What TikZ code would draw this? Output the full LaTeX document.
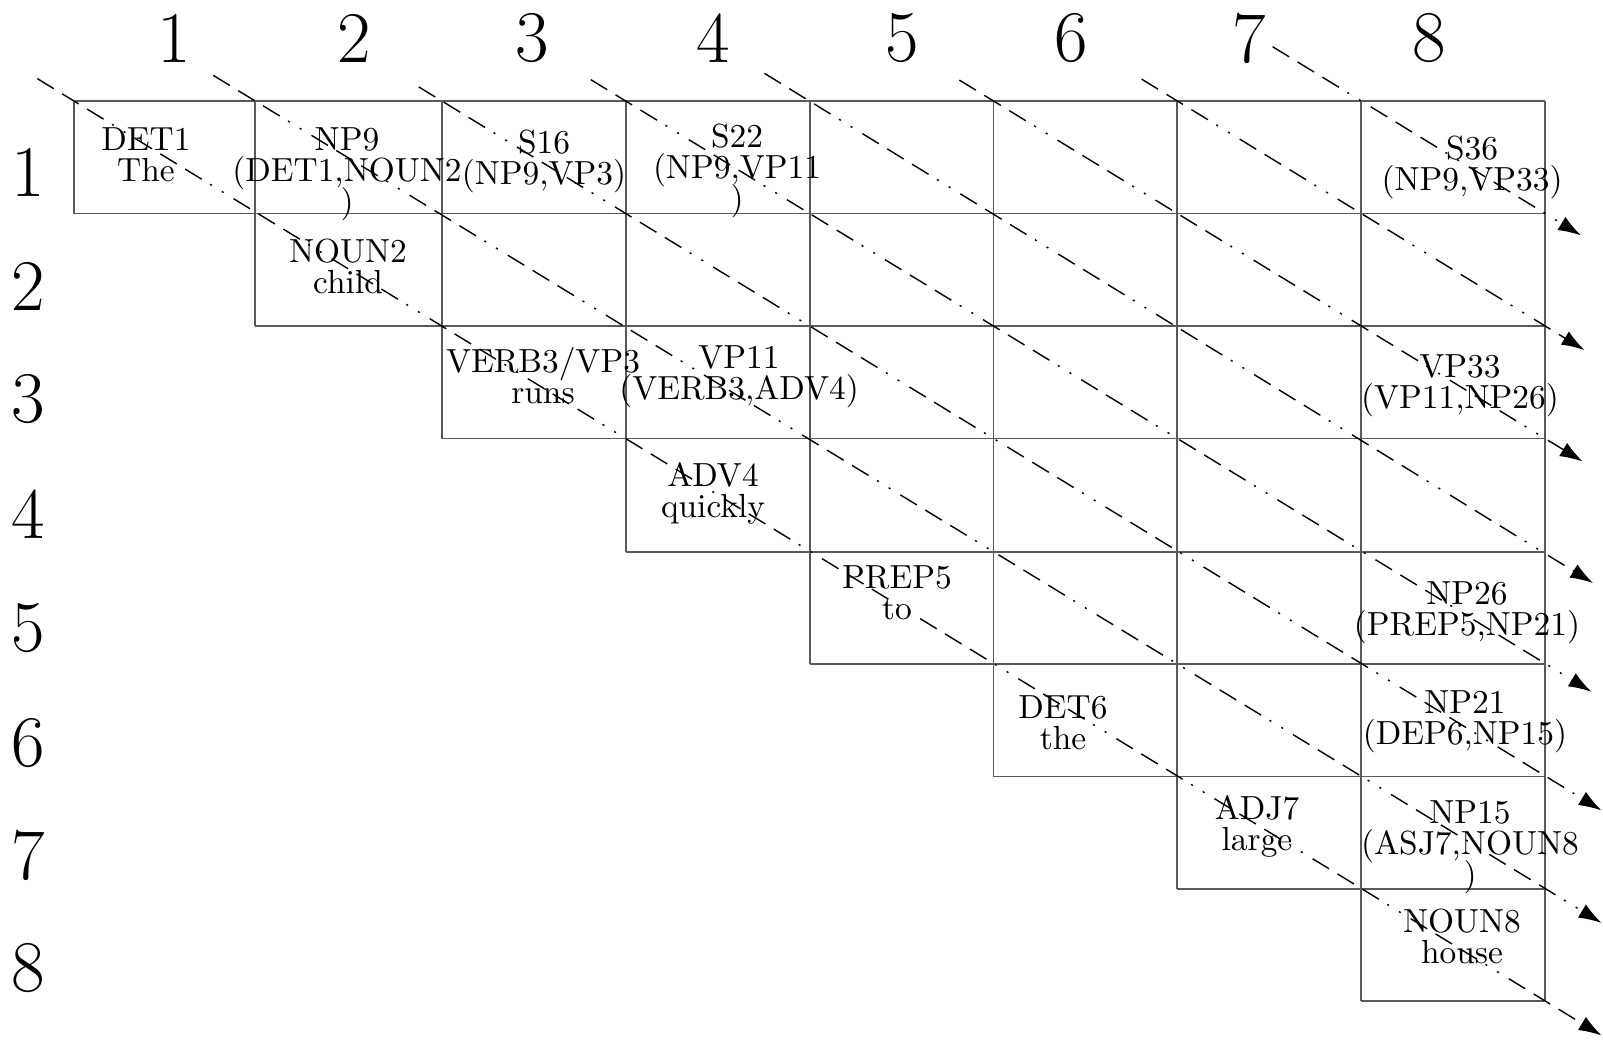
\documentclass[tikz,border=0pt]{standalone}
\usepackage{tikz}
\usetikzlibrary{arrows.meta}
\lineskiplimit=-10pt

\begin{document}
\begin{tikzpicture}[x=0.01cm,y=-0.01cm,
  entry/.style={align=center,inner sep=0pt,anchor=base,
    font=\fontsize{9.5}{8.9}\selectfont},
  index/.style={inner sep=0pt,font=\fontsize{20.7}{24}\selectfont},
  rule/.style={draw=black!65,line width=0.55pt},
  chain/.style={line width=0.4pt,
    dash pattern=on 5.5pt off 2.8pt on 5.5pt off 2.8pt on 5.5pt off 2.8pt
      on 0.6pt off 3.3pt on 0.6pt off 3.3pt,
    -{Latex[length=6.5pt,width=4.4pt]}}]
\useasboundingbox (0,0) rectangle (1603,1041);
% Column and Row Numbers
\node at (174,38) [index] (Col1) {1};
\node at (354,38) [index] (Col2) {2};
\node at (532,38) [index] (Col3) {3};
\node at (713,38) [index] (Col4) {4};
\node at (902,38) [index] (Col5) {5};
\node at (1071,38) [index] (Col6) {6};
\node at (1249,38) [index] (Col7) {7};
\node at (1429,38) [index] (Col8) {8};
\node at (28,172) [index] (Row1) {1};
\node at (28,286) [index] (Row2) {2};
\node at (28,399) [index] (Row3) {3};
\node at (28,514) [index] (Row4) {4};
\node at (28,628) [index] (Row5) {5};
\node at (28,743) [index] (Row6) {6};
\node at (28,855) [index] (Row7) {7};
\node at (28,968) [index] (Row8) {8};
% Table Rows
\draw [rule] (74,101) -- (1545.2,101);
\draw [rule] (74,213.5) -- (1545.2,213.5);
\draw [rule] (255,326) -- (1545.2,326);
\draw [rule] (441.8,438.5) -- (1545.2,438.5);
\draw [rule] (625.7,552) -- (1545.2,552);
\draw [rule] (809.6,664) -- (1545.2,664);
\draw [rule] (993.5,776.5) -- (1545.2,776.5);
\draw [rule] (1177.4,889) -- (1545.2,889);
\draw [rule] (1361.3,1001) -- (1545.2,1001);
% Table Columns
\draw [rule] (74,101) -- (74,213.5);
\draw [rule] (255,101) -- (255,326);
\draw [rule] (441.8,101) -- (441.8,438.5);
\draw [rule] (625.7,101) -- (625.7,552);
\draw [rule] (809.6,101) -- (809.6,664);
\draw [rule] (993.5,101) -- (993.5,776.5);
\draw [rule] (1177.4,101) -- (1177.4,889);
\draw [rule] (1361.3,101) -- (1361.3,1001);
\draw [rule] (1545.2,101) -- (1545.2,1001);
% Cell Entries (placed at the baseline of their last line)
\node at (146,181.3) [entry] (DET1) {DET1\\The};
\node at (347,212.6) [entry] (NP9) {NP9\\(DET1,NOUN2\\)};
\node at (544,184.3) [entry] (S16) {S16\\(NP9,VP3)};
\node at (737,209.6) [entry] (S22) {S22\\(NP9,VP11\\)};
\node at (1472,190.3) [entry] (S36) {S36\\(NP9,VP33)};
\node at (348,293.3) [entry] (NOUN2) {NOUN2\\child};
\node at (543,403.3) [entry] (VERB3) {VERB3/VP3\\runs};
\node at (739,399.3) [entry] (VP11) {VP11\\(VERB3,ADV4)};
\node at (1460,408.3) [entry] (VP33) {VP33\\(VP11,NP26)};
\node at (713,517.3) [entry] (ADV4) {ADV4\\quickly};
\node at (897,619.3) [entry] (PREP5) {PREP5\\to};
\node at (1467,635.3) [entry] (NP26) {NP26\\(PREP5,NP21)};
\node at (1063,749.3) [entry] (DET6) {DET6\\the};
\node at (1465,744.3) [entry] (NP21) {NP21\\(DEP6,NP15)};
\node at (1257,850.3) [entry] (ADJ7) {ADJ7\\large};
\node at (1470,885.6) [entry] (NP15) {NP15\\(ASJ7,NOUN8\\)};
\node at (1462,963.3) [entry] (NOUN8) {NOUN8\\house};
% Diagonal Ends
\coordinate (Start1) at (37.3,78.6);   \coordinate (Tip1) at (1601.5,1035.4);
\coordinate (Start2) at (213.3,75.4);  \coordinate (Tip2) at (1601.5,922.9);
\coordinate (Start3) at (418.8,86.9);  \coordinate (Tip3) at (1601.5,810.4);
\coordinate (Start4) at (590.7,79.6);  \coordinate (Tip4) at (1591.3,691.7);
\coordinate (Start5) at (764.4,73.3);  \coordinate (Tip5) at (1593.0,583.0);
\coordinate (Start6) at (959.4,80.1);  \coordinate (Tip6) at (1582.7,461.5);
\coordinate (Start7) at (1141.6,79.1); \coordinate (Tip7) at (1584.4,350.0);
\coordinate (Start8) at (1272.6,46.7); \coordinate (Tip8) at (1581.0,235.4);
% Diagonals
\draw [chain] (Start1) -- (Tip1);
\draw [chain] (Start2) -- (Tip2);
\draw [chain] (Start3) -- (Tip3);
\draw [chain] (Start4) -- (Tip4);
\draw [chain] (Start5) -- (Tip5);
\draw [chain] (Start6) -- (Tip6);
\draw [chain] (Start7) -- (Tip7);
\draw [chain] (Start8) -- (Tip8);
\end{tikzpicture}
\end{document}
